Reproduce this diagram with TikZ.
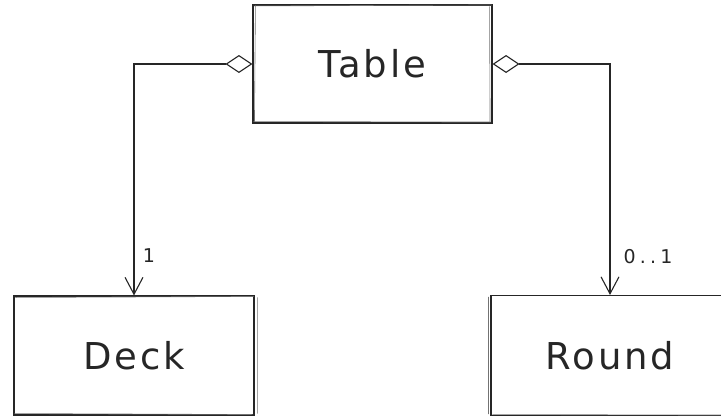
\documentclass[tikz,border=0pt]{standalone}
\usepackage{fontspec}
\setmainfont{DejaVu Sans}
\usetikzlibrary{arrows.meta}
\begin{document}
\begin{tikzpicture}[x=1pt,y=-1pt,
  inkline/.style={line width=1.1pt, draw=black!85},
  classbox/.style={inkline, rectangle, inner sep=0pt, font=\fontsize{37}{40}\selectfont\addfontfeature{LetterSpace=8}, text=black!85},
  retrace/.style={line width=0.6pt, draw=black!55},
  assoc/.style={inkline, {Diamond[open,length=27pt,width=18pt,line width=1.1pt]}-{Straight Barb[length=17pt,width=18pt,line width=1.1pt]}},
  mult/.style={font=\fontsize{19}{21}\selectfont\addfontfeature{LetterSpace=22}, text=black!85}]
  \useasboundingbox (0,0) rectangle (721,418);

  % classes
  \node[classbox, minimum width=239pt, minimum height=118pt] (table) at (372.5,64) {Table};
  \node[classbox, minimum width=240pt, minimum height=119pt] (deck) at (134,355.5) {Deck};
  \node[classbox, minimum width=238pt, minimum height=120pt] (round) at (610,355.5) {Round};

  % second pen strokes for a hand-drawn look
  \draw[retrace] ([shift={(2,1.5)}]table.north west) -- ([shift={(-1,0.5)}]table.north east)
                 ([shift={(-3,2)}]table.north east) -- ([shift={(-2.5,-1)}]table.south east)
                 ([shift={(3,1)}]table.north west) -- ([shift={(2,-2)}]table.south west)
                 ([shift={(1,-2)}]table.south west) -- ([shift={(-2,-1.5)}]table.south east);
  \draw[retrace] ([shift={(2,2)}]deck.north west) -- ([shift={(-1,1)}]deck.north east)
                 ([shift={(3,2)}]deck.north east) -- ([shift={(3,-2)}]deck.south east)
                 ([shift={(1,-2)}]deck.south west) -- ([shift={(-2,-1)}]deck.south east);
  \draw[retrace] ([shift={(-2,2)}]round.north west) -- ([shift={(-2,-2)}]round.south west)
                 ([shift={(2,-1.5)}]round.south west) -- ([shift={(-2,-1)}]round.south east);

  % aggregations from Table
  \draw[assoc] (table.west) -| (deck.north);
  \draw[assoc] (table.east) -| (round.north);

  % multiplicities
  \node[mult] (m1) at (149,256) {1};
  \node[mult] (m2) at (648,257) {0..1};
\end{tikzpicture}
\end{document}
